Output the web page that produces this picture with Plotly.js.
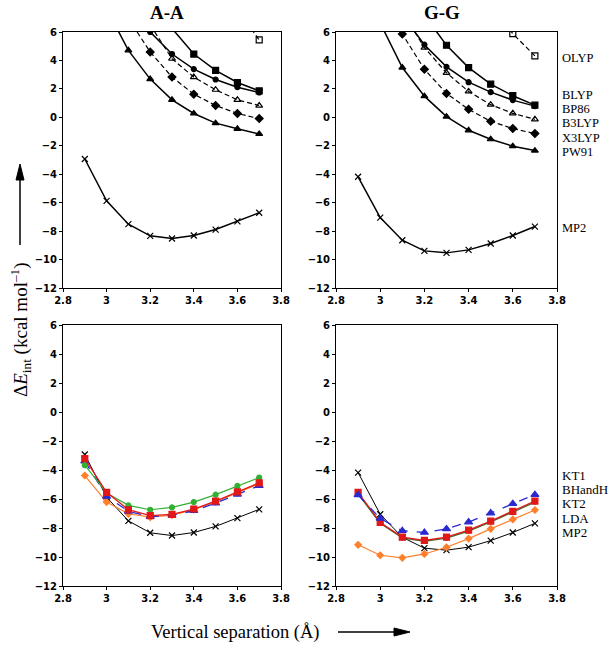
<!DOCTYPE html>
<html><head><meta charset="utf-8">
<script src="https://cdn.plot.ly/plotly-3.0.1.min.js"></script>
<style>html,body{margin:0;padding:0;background:#fff}#chart{width:609px;height:648px}</style>
</head><body><div id="chart"></div>
<script>
const xs = [2.9, 3.0, 3.1, 3.2, 3.3, 3.4, 3.5, 3.6, 3.7];
// A-A, upper panel
const aaOLYP  = [null, null, null, null, null, null, null, 7.6, 5.44];
const aaBLYP  = [null, null, null, 8.3, 6.25, 4.45, 3.30, 2.45, 1.86];
const aaBP86  = [null, null, 8.0, 6.0, 4.45, 3.39, 2.66, 2.12, 1.75];
const aaB3LYP = [null, null, null, 6.5, 4.12, 2.83, 1.94, 1.23, 0.83];
const aaX3LYP = [null, null, 6.94, 4.59, 2.83, 1.63, 0.83, 0.27, -0.09];
const aaPW91  = [null, 7.64, 4.71, 2.69, 1.23, 0.27, -0.41, -0.81, -1.17];
const aaMP2   = [-2.93, -5.87, -7.51, -8.33, -8.52, -8.31, -7.89, -7.32, -6.71];
// G-G, upper panel
const ggOLYP  = [null, null, null, null, null, null, 8.0, 5.88, 4.32];
const ggBLYP  = [null, null, null, 7.18, 5.07, 3.50, 2.33, 1.52, 0.86];
const ggBP86  = [null, null, 7.18, 5.11, 3.55, 2.47, 1.77, 1.21, 0.79];
const ggB3LYP = [null, null, 7.46, 4.90, 3.13, 1.82, 0.89, 0.28, -0.14];
const ggX3LYP = [null, 9.0, 5.86, 3.38, 1.68, 0.56, -0.28, -0.79, -1.14];
const ggPW91  = [null, 6.63, 3.50, 1.49, 0.05, -0.91, -1.54, -2.03, -2.34];
const ggMP2   = [-4.18, -7.05, -8.64, -9.39, -9.53, -9.32, -8.87, -8.31, -7.68];
// A-A, lower panel
const aaKT1    = [-3.39, -5.82, -6.85, -7.22, -7.13, -6.81, -6.28, -5.68, -5.08];
const aaBHandH = [-3.21, -5.54, -6.74, -7.15, -7.06, -6.69, -6.14, -5.51, -4.89];
const aaKT2    = [-3.67, -5.58, -6.44, -6.74, -6.58, -6.21, -5.70, -5.10, -4.52];
const aaLDA    = [-4.38, -6.21, -7.02, -7.25, -7.11, -6.74, -6.18, -5.58, -4.96];
// G-G, lower panel
const ggKT1    = [-5.72, -7.34, -8.19, -8.31, -8.06, -7.59, -6.97, -6.32, -5.70];
const ggBHandH = [-5.54, -7.62, -8.63, -8.86, -8.63, -8.15, -7.52, -6.85, -6.14];
const ggKT2    = [-5.65, -7.68, -8.68, -8.92, -8.70, -8.22, -7.58, -6.92, -6.22];
const ggLDA    = [-9.16, -9.88, -10.06, -9.79, -9.33, -8.73, -8.06, -7.41, -6.76];

const upperLabels = ['OLYP', 'BLYP', 'BP86', 'B3LYP', 'X3LYP', 'PW91', 'MP2'];
const lowerLabels = ['KT1', 'BHandH', 'KT2', 'LDA', 'MP2'];
const xTicks = [2.8, 3.0, 3.2, 3.4, 3.6, 3.8];
const xTickText = ['2.8', '3', '3.2', '3.4', '3.6', '3.8'];
const yTicks = [6, 4, 2, 0, -2, -4, -6, -8, -10, -12];

function tr(y, ax, color, dash, sym, size, lw, mfill) {
  return {
    x: xs, y: y, xaxis: 'x' + ax, yaxis: 'y' + ax, type: 'scatter', mode: 'lines+markers',
    connectgaps: false, cliponaxis: true, showlegend: false, hoverinfo: 'skip',
    line: {color: color, width: lw, dash: dash},
    marker: {symbol: sym, size: size, color: mfill || color, line: {color: color, width: 1.2}}
  };
}
const K = '#000';
const DASH = '5px,3px';
const data = [
  tr(aaOLYP, '', K, DASH, 'square-open', 6, 1.2),
  tr(aaBLYP, '', K, 'solid', 'square', 6, 1.5),
  tr(aaBP86, '', K, 'solid', 'circle', 5, 1.5),
  tr(aaB3LYP, '', K, DASH, 'triangle-up-open', 6, 1.2),
  tr(aaX3LYP, '', K, DASH, 'diamond', 6, 1.2),
  tr(aaPW91, '', K, 'solid', 'triangle-up', 6, 1.5),
  tr(aaMP2, '', K, 'solid', 'x-thin-open', 6, 1.5),

  tr(ggOLYP, '2', K, DASH, 'square-open', 6, 1.2),
  tr(ggBLYP, '2', K, 'solid', 'square', 6, 1.5),
  tr(ggBP86, '2', K, 'solid', 'circle', 5, 1.5),
  tr(ggB3LYP, '2', K, DASH, 'triangle-up-open', 6, 1.2),
  tr(ggX3LYP, '2', K, DASH, 'diamond', 6, 1.2),
  tr(ggPW91, '2', K, 'solid', 'triangle-up', 6, 1.5),
  tr(ggMP2, '2', K, 'solid', 'x-thin-open', 6, 1.5),

  tr(aaMP2, '3', K, 'solid', 'x-thin-open', 6, 1),
  tr(aaLDA, '3', '#ff7f2a', 'solid', 'diamond', 5, 1.2),
  tr(aaKT1, '3', '#2a2ad0', 'dash', 'triangle-up', 7, 1.3),
  tr(aaKT2, '3', '#33b033', 'solid', 'circle', 5, 1.2),
  tr(aaBHandH, '3', '#e01818', 'solid', 'square', 6, 1.3),

  tr(ggMP2, '4', K, 'solid', 'x-thin-open', 6, 1),
  tr(ggLDA, '4', '#ff7f2a', 'solid', 'diamond', 5, 1.2),
  tr(ggKT2, '4', '#3c6b2a', 'solid', 'circle', 4, 1.3),
  tr(ggBHandH, '4', '#e01818', 'solid', 'square', 6, 1.3),
  tr(ggKT1, '4', '#2a2ad0', 'dash', 'triangle-up', 7, 1.3)
];

const tickFont = {family: 'DejaVu Sans', size: 10, color: '#000', weight: 'bold'};
function xa(dom, anchor) {
  return {domain: dom, anchor: anchor, range: [2.8, 3.8], tickvals: xTicks, ticktext: xTickText,
    showgrid: false, zeroline: false, showline: true, linecolor: '#000', linewidth: 1, mirror: true,
    ticks: 'outside', ticklen: 3, tickcolor: '#000', tickfont: tickFont, fixedrange: true};
}
function ya(dom, anchor) {
  return {domain: dom, anchor: anchor, range: [-12, 6], tickvals: yTicks,
    showgrid: false, zeroline: false, showline: true, linecolor: '#000', linewidth: 1, mirror: true,
    ticks: 'outside', ticklen: 3, tickcolor: '#000', tickfont: tickFont, fixedrange: true};
}
const W = 609, H = 648;
const px = v => v / W, py = v => 1 - v / H;
const dxL = [px(63), px(281)], dxR = [px(336), px(557)];
const dyT = [py(288), py(32)], dyB = [py(586), py(325)];

const serif = 'Liberation Serif, Times New Roman, serif';
const ann = [];
function txt(t, x, y, size, opts) {
  ann.push(Object.assign({text: t, xref: 'paper', yref: 'paper', x: px(x), y: py(y), borderpad: 0,
    showarrow: false, font: {family: serif, size: size, color: '#000'}}, opts || {}));
}
txt('<b>A-A</b>', 167, 13, 19, {xanchor: 'center', yanchor: 'middle'});
txt('<b>G-G</b>', 442, 13, 19, {xanchor: 'center', yanchor: 'middle'});
const upY = [58, 95, 109, 123, 138, 152, 228];
upperLabels.forEach((l, i) => txt(l, 561, upY[i], 12.5, {xanchor: 'left', yanchor: 'middle'}));
const loY = [475, 489, 503, 518, 532];
lowerLabels.forEach((l, i) => txt(l, 561, loY[i], 13, {xanchor: 'left', yanchor: 'middle'}));
txt('Vertical separation (Å)', 235, 632, 18.5, {xanchor: 'center', yanchor: 'middle'});
txt('Δ<i>E</i><sub>int</sub> (kcal mol<sup>–1</sup>)', 20, 330, 19, {xanchor: 'center', yanchor: 'middle', textangle: -90});

// arrows drawn as shapes
const shapes = [
  {type: 'line', xref: 'paper', yref: 'paper', x0: px(338), x1: px(398), y0: py(632), y1: py(632),
    line: {color: '#000', width: 1.5}},
  {type: 'path', xref: 'paper', yref: 'paper',
    path: `M ${px(394)} ${py(628)} L ${px(410)} ${py(632)} L ${px(394)} ${py(636)} Z`,
    fillcolor: '#000', line: {color: '#000', width: 1}},
  {type: 'line', xref: 'paper', yref: 'paper', x0: px(20), x1: px(20), y0: py(245), y1: py(176),
    line: {color: '#000', width: 1.5}},
  {type: 'path', xref: 'paper', yref: 'paper',
    path: `M ${px(16)} ${py(180)} L ${px(20)} ${py(164)} L ${px(24)} ${py(180)} Z`,
    fillcolor: '#000', line: {color: '#000', width: 1}}
];

const layout = {
  width: W, height: H, margin: {l: 0, r: 0, t: 0, b: 0}, paper_bgcolor: '#fff', plot_bgcolor: '#fff',
  showlegend: false,
  xaxis: xa(dxL, 'y'), yaxis: ya(dyT, 'x'),
  xaxis2: xa(dxR, 'y2'), yaxis2: ya(dyT, 'x2'),
  xaxis3: xa(dxL, 'y3'), yaxis3: ya(dyB, 'x3'),
  xaxis4: xa(dxR, 'y4'), yaxis4: ya(dyB, 'x4'),
  annotations: ann, shapes: shapes
};
Plotly.newPlot('chart', data, layout, {displayModeBar: false, staticPlot: true});
</script></body></html>
